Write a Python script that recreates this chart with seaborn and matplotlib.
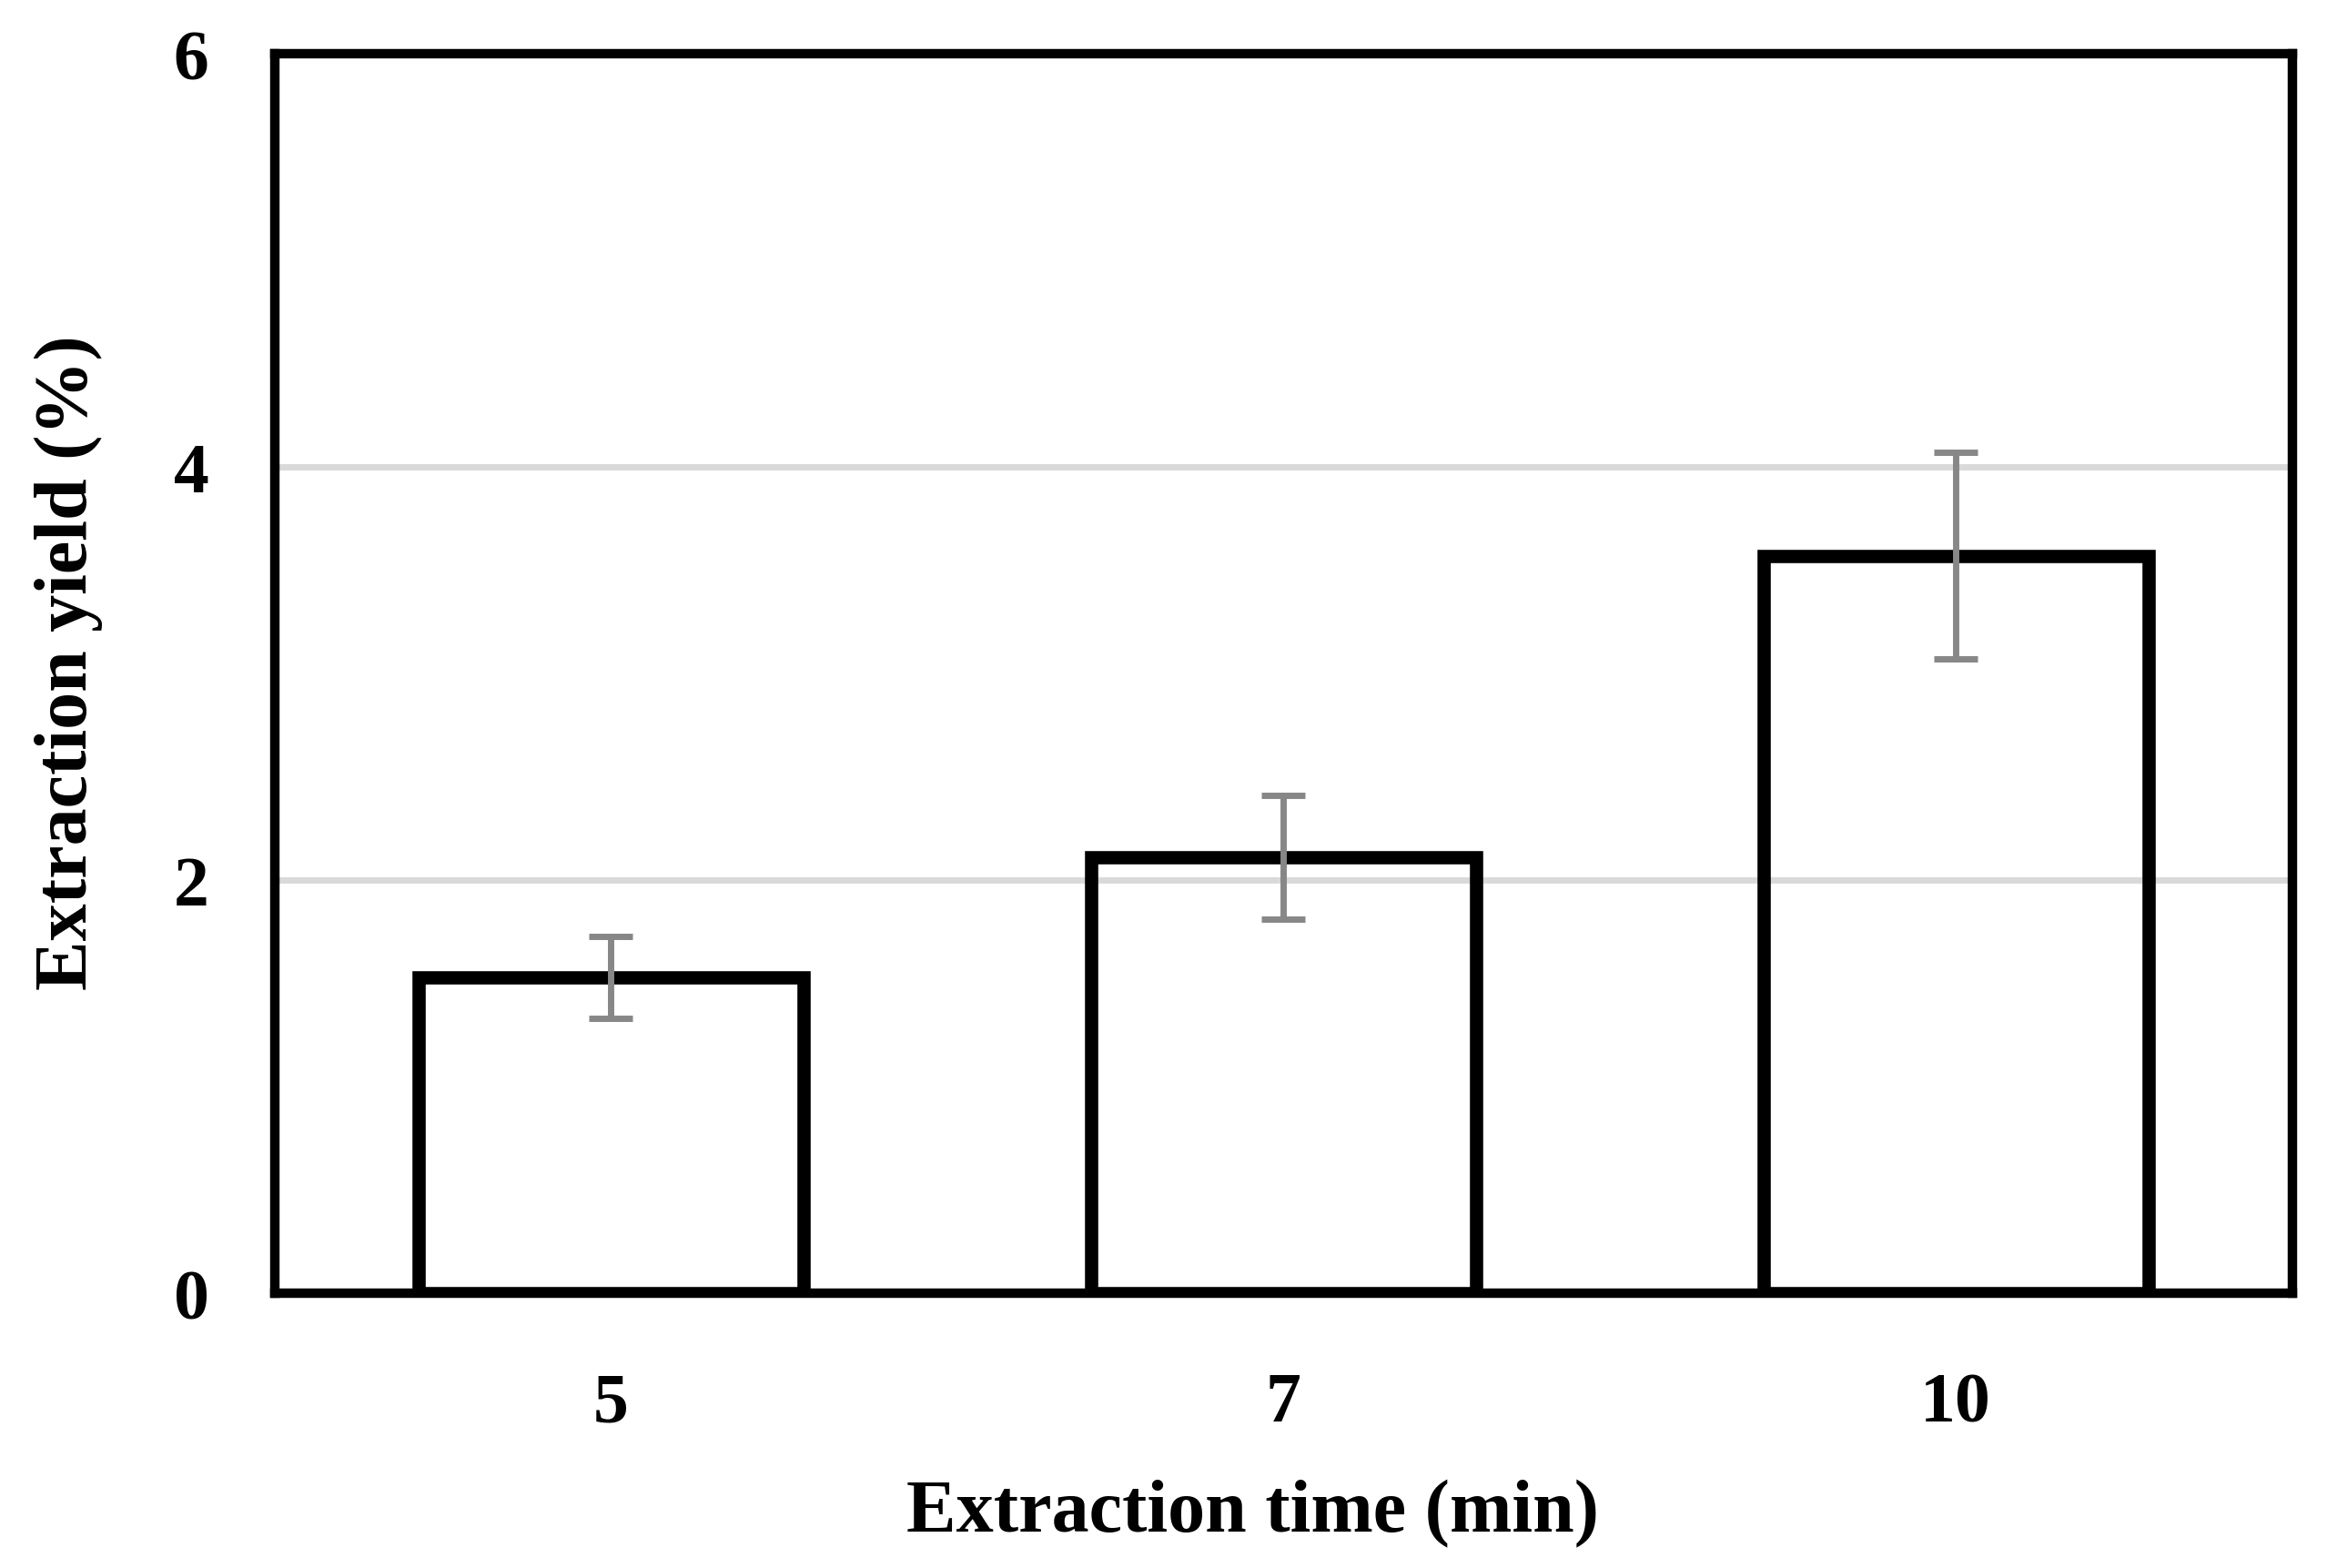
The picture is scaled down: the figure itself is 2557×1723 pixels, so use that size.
import matplotlib
matplotlib.use("Agg")
import matplotlib.pyplot as plt
import seaborn as sns

# data
times = ["5", "7", "10"]
yields = [1.53, 2.11, 3.57]
errors = [0.20, 0.30, 0.50]

sns.set_theme(style="white")
plt.rcParams["font.family"] = ["Liberation Serif", "DejaVu Serif"]
plt.rcParams["font.weight"] = "bold"
plt.rcParams["text.color"] = "black"
plt.rcParams["axes.labelcolor"] = "black"
plt.rcParams["xtick.color"] = "black"
plt.rcParams["ytick.color"] = "black"

fig = plt.figure(figsize=(25.57, 17.24), dpi=100)
ax = fig.add_axes([0.118, 0.175, 0.867, 0.79])

# light grid behind everything
ax.set_axisbelow(True)
ax.yaxis.grid(True, color="#d9d9d9", linewidth=5)

sns.barplot(x=times, y=yields, order=times, width=0.572, ax=ax,
            facecolor="none", edgecolor="black", linewidth=10.5, zorder=2)

ax.errorbar(x=range(len(times)), y=yields, yerr=errors, fmt="none",
            ecolor="#878787", elinewidth=5, capsize=17, capthick=5, zorder=3)

ax.set_ylim(0, 6)
ax.set_xlim(-0.5, 2.5)
ax.set_yticks([0, 2, 4, 6])

for side in ["left", "right", "top", "bottom"]:
    ax.spines[side].set_visible(True)
    ax.spines[side].set_color("black")
    ax.spines[side].set_linewidth(7.5)

ax.tick_params(axis="both", length=0, labelsize=56, labelcolor="black")
ax.tick_params(axis="y", pad=52)
ax.tick_params(axis="x", pad=62)
for lbl in ax.get_xticklabels() + ax.get_yticklabels():
    lbl.set_fontweight("bold")

ax.set_xlabel("Extraction time (min)", fontsize=59, fontweight="bold",
              color="black")
ax.set_ylabel("Extraction yield (%)", fontsize=59, fontweight="bold",
              color="black")
ax.xaxis.set_label_coords(0.485, -0.150)
ax.yaxis.set_label_coords(-0.085, 0.51)

plt.savefig("out.png", dpi=100)
